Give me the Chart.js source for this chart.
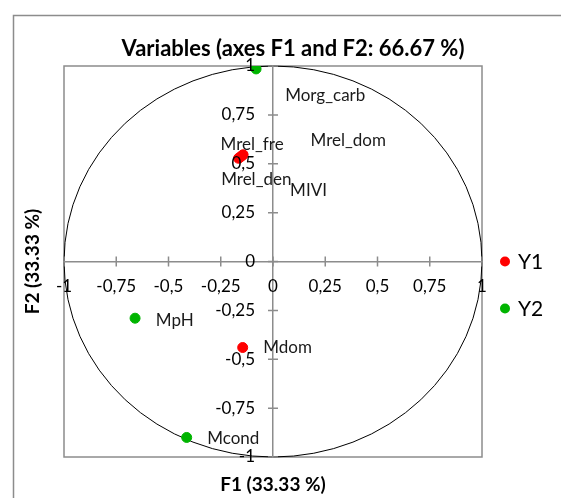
<!DOCTYPE html>
<html>
<head>
<meta charset="utf-8">
<script src="https://cdn.jsdelivr.net/npm/chart.js@4.4.1/dist/chart.umd.min.js"></script>
<style>
	html, body { margin: 0; padding: 0; background: #fff; }
	#wrap { width: 561px; height: 498px; }
</style>
</head>
<body>
<div id="wrap"><canvas id="c"></canvas></div>
<script>
// variables of group Y1 and Y2, coordinates on F1 / F2
const y1Names = ['Mrel_fre', 'Mrel_den', 'Mrel_dom', 'MIVI', 'Mdom'];
const y1F1 = [-0.165, -0.158, -0.15, -0.143, -0.145];
const y1F2 = [0.528, 0.533, 0.54, 0.546, -0.44];
const y2Names = ['Morg_carb', 'MpH', 'Mcond'];
const y2F1 = [-0.081, -0.66, -0.413];
const y2F2 = [0.985, -0.29, -0.9];
// where each name is written, in axis units
const y1LabelF1 = [-0.1, -0.08, 0.36, 0.17, 0.07];
const y1LabelF2 = [0.6, 0.42, 0.62, 0.365, -0.44];
const y2LabelF1 = [0.25, -0.47, -0.19];
const y2LabelF2 = [0.85, -0.3, -0.905];
const tickValues = [-1, -0.75, -0.5, -0.25, 0, 0.25, 0.5, 0.75, 1];

const FONT = 'Lato, "DejaVu Sans", sans-serif';
const GREY = '#8c8c8c';

const toPoints = (xs, ys) => xs.map((x, i) => ({ x: x, y: ys[i] }));
const fmt = (v) => String(v).replace('.', ',');

const decor = {
	id: 'decor',
	beforeDraw(chart) {
		const ctx = chart.ctx;
		const a = chart.chartArea;
		const sx = chart.scales.x, sy = chart.scales.y;
		ctx.save();
		// outer frame
		ctx.strokeStyle = GREY;
		ctx.lineWidth = 1.5;
		ctx.beginPath();
		ctx.moveTo(13.5, 520);
		ctx.lineTo(13.5, 15.5);
		ctx.lineTo(565, 15.5);
		ctx.stroke();
		// plot border
		ctx.strokeRect(a.left, a.top, a.right - a.left, a.bottom - a.top);
		// correlation circle
		const cx = sx.getPixelForValue(0), cy = sy.getPixelForValue(0);
		ctx.strokeStyle = '#000';
		ctx.lineWidth = 1;
		ctx.beginPath();
		ctx.ellipse(cx, cy, sx.getPixelForValue(1) - cx, cy - sy.getPixelForValue(1), 0, 0, Math.PI * 2);
		ctx.stroke();
		// tick marks crossing the axes
		ctx.strokeStyle = GREY;
		ctx.lineWidth = 1.5;
		ctx.beginPath();
		sx.ticks.forEach((t) => {
			const px = sx.getPixelForValue(t.value);
			ctx.moveTo(px, cy - 5);
			ctx.lineTo(px, cy + 5);
		});
		sy.ticks.forEach((t) => {
			const py = sy.getPixelForValue(t.value);
			ctx.moveTo(cx - 5, py);
			ctx.lineTo(cx + 5, py);
		});
		ctx.stroke();
		ctx.restore();
	},
	afterDraw(chart) {
		const ctx = chart.ctx;
		const a = chart.chartArea;
		const sx = chart.scales.x, sy = chart.scales.y;
		const cx = sx.getPixelForValue(0), cy = sy.getPixelForValue(0);
		ctx.save();
		// tick labels
		ctx.fillStyle = '#000';
		ctx.font = '17px ' + FONT;
		ctx.textBaseline = 'middle';
		ctx.textAlign = 'center';
		sx.ticks.forEach((t) => ctx.fillText(fmt(t.value), sx.getPixelForValue(t.value), cy + 25));
		ctx.textAlign = 'right';
		sy.ticks.forEach((t) => ctx.fillText(fmt(t.value), cx - 18, sy.getPixelForValue(t.value)));
		// variable names
		ctx.fillStyle = '#1a1a1a';
		ctx.textAlign = 'center';
		const names = [[y1Names, y1LabelF1, y1LabelF2], [y2Names, y2LabelF1, y2LabelF2]];
		names.forEach(([n, lx, ly]) => {
			n.forEach((name, i) => ctx.fillText(name, sx.getPixelForValue(lx[i]), sy.getPixelForValue(ly[i])));
		});
		// titles
		ctx.fillStyle = '#000';
		ctx.font = 'bold 22px ' + FONT;
		ctx.fillText('Variables (axes F1 and F2: 66.67 %)', 293, 49);
		ctx.font = 'bold 19px ' + FONT;
		ctx.fillText('F1 (33.33 %)', (a.left + a.right) / 2, 485);
		ctx.save();
		ctx.translate(33, (a.top + a.bottom) / 2);
		ctx.rotate(-Math.PI / 2);
		ctx.fillText('F2 (33.33 %)', 0, 0);
		ctx.restore();
		// legend
		ctx.textAlign = 'left';
		ctx.font = '21px ' + FONT;
		chart.data.datasets.forEach((ds, i) => {
			const y = cy + i * 47;
			ctx.fillStyle = ds.backgroundColor;
			ctx.beginPath();
			ctx.arc(a.right + 23, y, 5, 0, Math.PI * 2);
			ctx.fill();
			ctx.fillStyle = '#000';
			ctx.fillText(ds.label, a.right + 36, y + 1);
		});
		ctx.restore();
	}
};

const axis = () => ({
	type: 'linear',
	min: -1,
	max: 1,
	afterBuildTicks: (scale) => { scale.ticks = tickValues.map((v) => ({ value: v })); },
	grid: { display: false },
	border: { display: true, color: GREY, width: 1.5 },
	ticks: { display: false }
});

new Chart(document.getElementById('c'), {
	type: 'scatter',
	data: {
		datasets: [
			{ label: 'Y1', data: toPoints(y1F1, y1F2), backgroundColor: '#ff0000', borderColor: '#ff0000', pointRadius: 5, pointHoverRadius: 5 },
			{ label: 'Y2', data: toPoints(y2F1, y2F2), backgroundColor: '#00b400', borderColor: '#00b400', pointRadius: 5, pointHoverRadius: 5 }
		]
	},
	options: {
		responsive: true,
		maintainAspectRatio: false,
		animation: false,
		layout: { padding: { left: 64, top: 66, right: 79, bottom: 41 } },
		plugins: { legend: { display: false }, title: { display: false }, tooltip: { enabled: false } },
		scales: {
			x: Object.assign(axis(), { position: { y: 0 } }),
			y: Object.assign(axis(), { position: { x: 0 } })
		}
	},
	plugins: [decor]
});
</script>
</body>
</html>
